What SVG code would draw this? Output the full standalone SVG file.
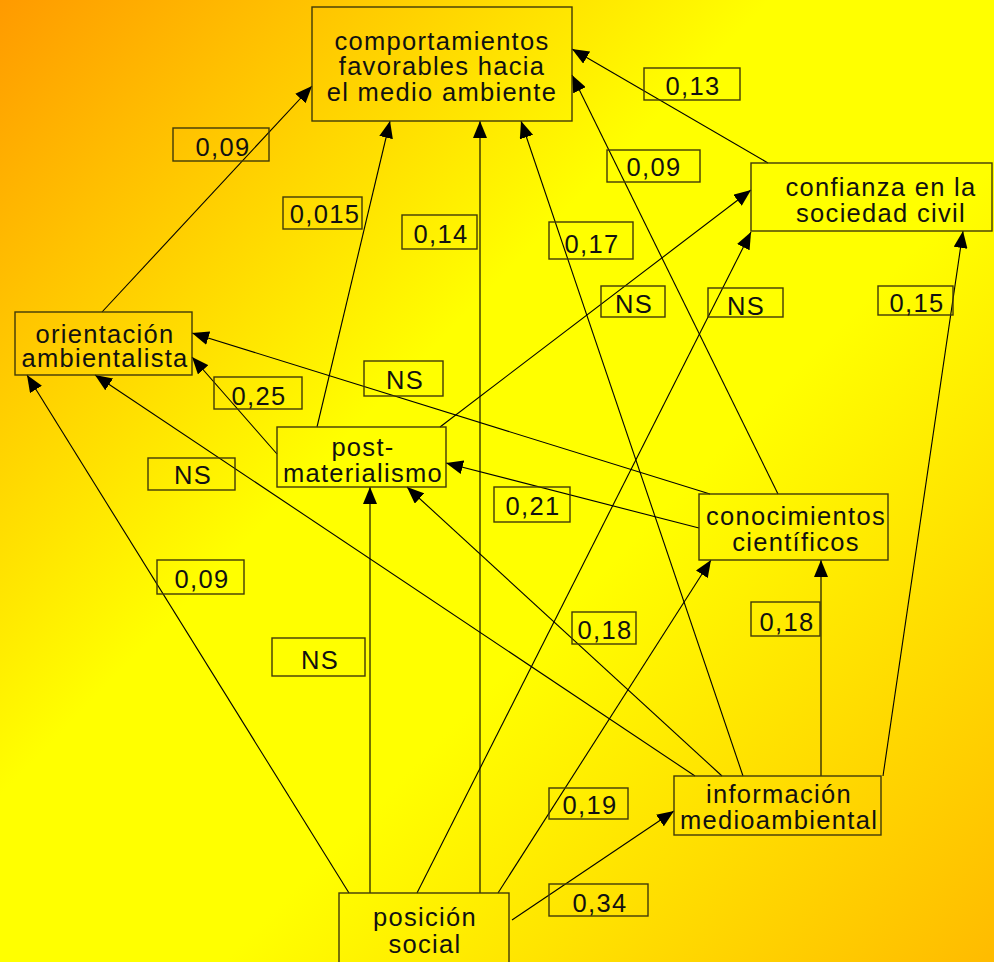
<svg xmlns="http://www.w3.org/2000/svg" width="994" height="962" viewBox="0 0 994 962">
<defs>
<linearGradient id="bg" gradientUnits="userSpaceOnUse" x1="0" y1="0" x2="994" y2="962">
<stop offset="0" stop-color="#ff9a00"/>
<stop offset="0.4" stop-color="#ffff00"/>
<stop offset="0.6" stop-color="#ffff00"/>
<stop offset="1" stop-color="#ffbb00"/>
</linearGradient>
<marker id="ah" markerUnits="userSpaceOnUse" markerWidth="17" markerHeight="14" viewBox="0 0 17 14" refX="17" refY="7" orient="auto">
<path d="M0,0 L17,7 L0,14 z" fill="#000"/>
</marker>
<style>
.box{fill:none;stroke:#403a08;stroke-width:1.4}
.lbl{fill:none;stroke:#403a08;stroke-width:1.4}
text{font-family:"Liberation Sans",Arial,sans-serif;font-size:25.5px;letter-spacing:1.3px;fill:#111;text-anchor:middle}
.c line{stroke:#000;stroke-width:1.1;fill:none;marker-end:url(#ah)}
</style>
</defs>
<rect x="0" y="0" width="994" height="962" fill="url(#bg)"/>

<g id="connectors" class="c">
<line x1="102" y1="312" x2="312" y2="86"/>
<line x1="317" y1="427" x2="390" y2="121"/>
<line x1="480" y1="893" x2="480" y2="121"/>
<line x1="743" y1="776" x2="521" y2="121"/>
<line x1="778" y1="494" x2="572" y2="75"/>
<line x1="768" y1="163" x2="572" y2="49"/>
<line x1="440" y1="427" x2="751" y2="190"/>
<line x1="417" y1="893" x2="751" y2="232"/>
<line x1="883" y1="776" x2="963" y2="231"/>
<line x1="710" y1="494" x2="192" y2="333"/>
<line x1="277" y1="454" x2="192" y2="357"/>
<line x1="349" y1="893" x2="27" y2="375"/>
<line x1="695" y1="776" x2="95" y2="375"/>
<line x1="699" y1="528" x2="446" y2="463"/>
<line x1="722" y1="776" x2="407" y2="487"/>
<line x1="370" y1="893" x2="370" y2="487"/>
<line x1="498" y1="893" x2="711" y2="560"/>
<line x1="821" y1="776" x2="821" y2="560"/>
<line x1="512" y1="920" x2="674" y2="811"/>
</g>

<g id="n-comportamientos">
<rect class="box" x="312" y="7" width="260" height="114"/>
<text x="442" y="50">comportamientos</text>
<text x="442" y="75">favorables hacia</text>
<text x="442" y="101">el medio ambiente</text>
</g>
<g id="n-confianza">
<rect class="box" x="751" y="163" width="241" height="68"/>
<text x="881" y="196">confianza en la</text>
<text x="881" y="222">sociedad civil</text>
</g>
<g id="n-orientacion">
<rect class="box" x="15" y="312" width="177" height="63"/>
<text x="105" y="343">orientación</text>
<text x="105" y="367">ambientalista</text>
</g>
<g id="n-postmaterialismo">
<rect class="box" x="277" y="427" width="169" height="60"/>
<text x="363" y="456">post-</text>
<text x="363" y="482">materialismo</text>
</g>
<g id="n-conocimientos">
<rect class="box" x="699" y="494" width="189" height="66"/>
<text x="796" y="525">conocimientos</text>
<text x="796" y="551">científicos</text>
</g>
<g id="n-informacion">
<rect class="box" x="674" y="776" width="207" height="59"/>
<text x="779" y="803">información</text>
<text x="779" y="829">medioambiental</text>
</g>
<g id="n-posicion">
<rect class="box" x="339" y="893" width="170" height="75"/>
<text x="425" y="926">posición</text>
<text x="425" y="953">social</text>
</g>

<g id="labels">
<g id="l1"><rect class="lbl" x="173" y="128" width="96" height="33"/><text x="223" y="156">0,09</text></g>
<g id="l2"><rect class="lbl" x="283" y="197" width="79" height="32"/><text x="325" y="223">0,015</text></g>
<g id="l3"><rect class="lbl" x="402" y="215" width="75" height="34"/><text x="441" y="243">0,14</text></g>
<g id="l4"><rect class="lbl" x="549" y="222" width="84" height="37"/><text x="592" y="253">0,17</text></g>
<g id="l5"><rect class="lbl" x="607" y="150" width="93" height="32"/><text x="654" y="176">0,09</text></g>
<g id="l6"><rect class="lbl" x="644" y="68" width="96" height="32"/><text x="693" y="95">0,13</text></g>
<g id="l7"><rect class="lbl" x="601" y="286" width="64" height="31"/><text x="634" y="313">NS</text></g>
<g id="l8"><rect class="lbl" x="708" y="288" width="75" height="29"/><text x="746" y="315">NS</text></g>
<g id="l9"><rect class="lbl" x="878" y="286" width="75" height="29"/><text x="917" y="312">0,15</text></g>
<g id="l10"><rect class="lbl" x="364" y="361" width="79" height="35"/><text x="405" y="389">NS</text></g>
<g id="l11"><rect class="lbl" x="214" y="377" width="88" height="32"/><text x="259" y="405">0,25</text></g>
<g id="l12"><rect class="lbl" x="148" y="458" width="87" height="32"/><text x="193" y="484">NS</text></g>
<g id="l13"><rect class="lbl" x="157" y="560" width="87" height="34"/><text x="202" y="588">0,09</text></g>
<g id="l14"><rect class="lbl" x="272" y="638" width="93" height="38"/><text x="320" y="669">NS</text></g>
<g id="l15"><rect class="lbl" x="494" y="487" width="76" height="35"/><text x="533" y="515">0,21</text></g>
<g id="l16"><rect class="lbl" x="572" y="612" width="64" height="32"/><text x="605" y="639">0,18</text></g>
<g id="l17"><rect class="lbl" x="751" y="602" width="69" height="34"/><text x="787" y="631">0,18</text></g>
<g id="l18"><rect class="lbl" x="549" y="788" width="79" height="31"/><text x="590" y="814">0,19</text></g>
<g id="l19"><rect class="lbl" x="549" y="884" width="99" height="32"/><text x="600" y="912">0,34</text></g>
</g>
</svg>
